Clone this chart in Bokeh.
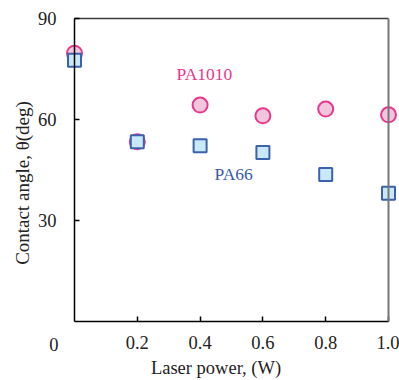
from bokeh.plotting import figure
from bokeh.models import Range1d, FixedTicker, LinearAxis, PrintfTickFormatter
from bokeh.embed import file_html
from bokeh.resources import INLINE
from bokeh.core.properties import value

power = [0.0, 0.2, 0.4, 0.6, 0.8, 1.0]
pa1010 = [79.7, 53.4, 64.3, 61.1, 63.1, 61.4]
pa66 = [77.6, 53.4, 52.2, 50.2, 43.7, 38.1]
x_ticks = [0.2, 0.4, 0.6, 0.8, 1.0]
y_ticks = [30, 60, 90]
x_lo, x_hi = 0.0, 1.0
y_lo, y_hi = 0, 90

FONT = "Liberation Serif"
TXT = "#222222"

p = figure(width=399, height=380, output_backend="svg", toolbar_location=None,
           x_range=Range1d(-0.13376, 1.03503), y_range=Range1d(-10.623, 92.951),
           min_border_left=32, min_border_right=0, min_border_top=8, min_border_bottom=21)
p.background_fill_color = "white"
p.border_fill_color = "white"
p.grid.visible = False
p.outline_line_color = None


def style_axis(ax):
    ax.axis_line_color = "black"
    ax.axis_line_width = 1.5
    ax.major_tick_in = 5
    ax.major_tick_out = 0
    ax.minor_tick_line_color = None
    ax.major_tick_line_color = "black"
    ax.major_tick_line_width = 1.5
    ax.major_label_text_font = FONT
    ax.major_label_text_font_size = "18.5px"
    ax.major_label_text_color = TXT


xa = p.xaxis[0]
ya = p.yaxis[0]
style_axis(xa)
style_axis(ya)
xa.ticker = FixedTicker(ticks=x_ticks)
ya.ticker = FixedTicker(ticks=y_ticks)
xa.formatter = PrintfTickFormatter(format="%.1f")
xa.fixed_location = y_lo
ya.fixed_location = x_lo
xa.bounds = (x_lo, x_hi)
ya.bounds = (y_lo, y_hi)
xa.major_label_standoff = 14
ya.major_label_standoff = 18

# frame lines on top and right
top = LinearAxis(ticker=FixedTicker(ticks=[]), fixed_location=y_hi, bounds=(x_lo, x_hi),
                 axis_line_color="#3a3a3a", axis_line_width=1.5,
                 major_tick_line_color=None, minor_tick_line_color=None)
right = LinearAxis(ticker=FixedTicker(ticks=[]), fixed_location=x_hi, bounds=(y_lo, y_hi),
                   axis_line_color="#777777", axis_line_width=2,
                   major_tick_line_color=None, minor_tick_line_color=None)
p.add_layout(top, "above")
p.add_layout(right, "right")

# axis titles
xlab = LinearAxis(ticker=FixedTicker(ticks=[]), bounds=(x_lo, x_hi), axis_label="Laser power, (W)",
                  axis_line_color=None, major_tick_line_color=None, minor_tick_line_color=None,
                  major_tick_out=0, major_tick_in=0, axis_label_standoff=0,
                  axis_label_text_font=FONT, axis_label_text_font_size="18.5px",
                  axis_label_text_font_style="normal", axis_label_text_color=TXT)
ylab = LinearAxis(ticker=FixedTicker(ticks=[]), bounds=(y_lo, y_hi), axis_label="Contact angle, θ(deg)",
                  axis_line_color=None, major_tick_line_color=None, minor_tick_line_color=None,
                  major_tick_out=0, major_tick_in=0, axis_label_standoff=0,
                  axis_label_text_font=FONT, axis_label_text_font_size="19px",
                  axis_label_text_font_style="normal", axis_label_text_color=TXT)
p.add_layout(xlab, "below")
p.add_layout(ylab, "left")

# origin label
p.text(x=[x_lo], y=[y_lo], text=["0"], x_offset=-16, y_offset=23, text_align="right",
       text_baseline="middle", text_font=value(FONT), text_font_size="18.5px", text_color=TXT)

p.scatter(power, pa1010, marker="circle", size=15, fill_color="#efc6dd",
          line_color="#e8378c", line_width=2)
p.scatter(power, pa66, marker="square", size=13, fill_color="#c9e9f9",
          line_color="#3a62ae", line_width=2)

p.text(x=[0.325], y=[73.5], text=["PA1010"], text_font=value(FONT), text_font_size="17.5px",
       text_color="#e8378c", text_baseline="middle", text_align="left")
p.text(x=[0.446], y=[43.7], text=["PA66"], text_font=value(FONT), text_font_size="17.5px",
       text_color="#3a5aa8", text_baseline="middle", text_align="left")

open("out.html", "w").write(file_html(p, INLINE))
